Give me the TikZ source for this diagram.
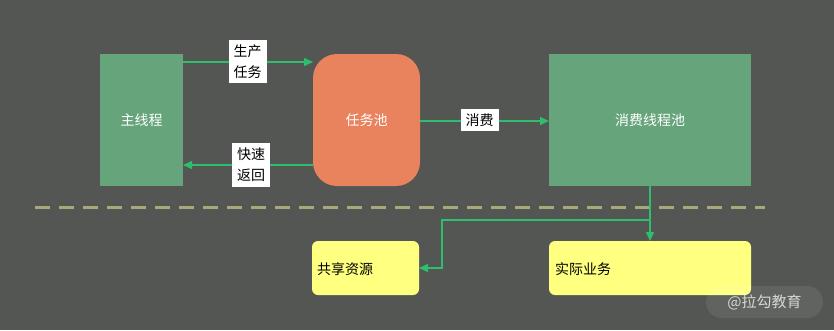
\documentclass[tikz,border=0pt]{standalone}
\usepackage{fontspec}
\setmainfont{Noto Sans CJK SC}
\usetikzlibrary{arrows.meta}
\definecolor{bg}{RGB}{83,86,82}
\definecolor{boxgreen}{RGB}{102,165,123}
\definecolor{pool}{RGB}{232,131,94}
\definecolor{arr}{RGB}{46,190,110}
\definecolor{dashc}{RGB}{168,168,120}
\definecolor{yel}{RGB}{255,255,128}
\tikzset{
  txt/.style={font=\fontsize{14}{16}\selectfont},
  gbox/.style={fill=boxgreen,draw=none},
  ybox/.style={fill=yel,draw=none,rounded corners=6pt},
  lab/.style={fill=white,text=black,inner xsep=5pt,inner ysep=5pt,align=center,font=\fontsize{14}{21}\selectfont},
  conn/.style={draw=arr,line width=1.5pt,-{Triangle[length=9pt,width=8pt]}},
}
\begin{document}
\begin{tikzpicture}[x=1pt,y=-1pt]
\fill[bg] (0,0) rectangle (834,330);
\useasboundingbox (0,0) rectangle (834,330);
% boxes
\path[gbox] (100,54) rectangle (183,186);
\node[txt,text=white] (main) at (141.5,120) {主线程};
\coordinate (mainE1) at (183,62);
\coordinate (mainE2) at (183,165);
\path[fill=pool,rounded corners=24pt] (313,54) rectangle (420,186);
\node[txt,text=white] (pool) at (366.5,120) {任务池};
\coordinate (poolW1) at (313,62);
\coordinate (poolW2) at (313,165);
\coordinate (poolE) at (420,121);
\path[gbox] (549,54) rectangle (751,186);
\node[txt,text=white] (cons) at (650,120) {消费线程池};
\coordinate (consW) at (549,121);
\coordinate (consS) at (650,186);
% dashed line
\coordinate (d1) at (35,207);
\coordinate (d2) at (765,207);
\draw[dashc,line width=3pt,dash pattern=on 15pt off 9pt] (d1) -- (d2);
% yellow boxes
\path[ybox] (312,241) rectangle (419,295);
\node[txt,anchor=west,inner sep=0pt] (share) at (317,269) {共享资源};
\coordinate (shareE) at (419,268);
\path[ybox] (549,241) rectangle (751,295);
\node[txt,anchor=west,inner sep=0pt] (biz) at (555,269) {实际业务};
\coordinate (bizN) at (650,241);
% connectors
\draw[conn] (mainE1) -- (poolW1);
\draw[conn] (poolW2) -- (mainE2);
\draw[conn] (poolE) -- (consW);
\draw[conn] (consS) -- (bizN);
\coordinate (br) at (650,220);
\draw[conn] (br) -- (442,220) -- (442,268) -- (shareE);
% labels
\node[lab] (l1) at (247.5,61.5) {生产\\任务};
\node[lab] (l2) at (251,165) {快速\\返回};
\node[lab] (l3) at (479.5,120) {消费};
% watermark
\path[fill=white,fill opacity=0.08,rounded corners=16pt] (706,286) rectangle (823,318);
\node[text=white,opacity=0.75,font=\fontsize{15}{17}\selectfont] (wm) at (764.5,302) {@拉勾教育};
\end{tikzpicture}
\end{document}
